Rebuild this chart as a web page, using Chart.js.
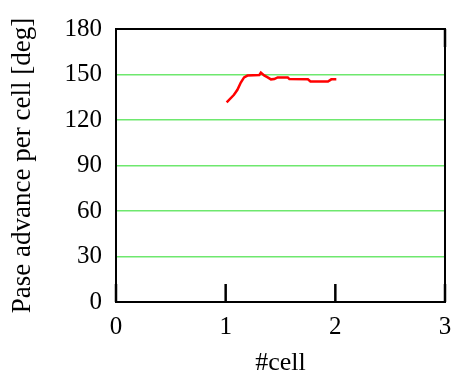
<!DOCTYPE html>
<html><head><meta charset="utf-8">
<script src="https://cdn.jsdelivr.net/npm/chart.js@4/dist/chart.umd.min.js"></script>
<style>html,body{margin:0;padding:0;background:#fff}#wrap{width:454px;height:379px}</style>
</head><body><div id="wrap"><canvas id="c" width="454" height="379"></canvas></div>
<script>
const cellX = [1.009,1.076,1.107,1.138,1.168,1.199,1.306,1.321,1.351,1.383,1.413,1.443,1.474,1.566,1.581,1.750,1.773,1.933,1.963,2.009];
const phaseY = [131.7,136.6,139.9,144.7,148.1,149.3,149.6,151.2,149.4,148.1,146.8,147.0,148.1,148.1,147.0,146.8,145.4,145.4,146.8,146.8];
const xTicks = [0,1,2,3];
const yTicks = [0,30,60,90,120,150,180];

const FONT = "'Liberation Serif','Times New Roman',serif";

const frame = {
  id:'frame',
  afterDraw(chart){
    const {ctx, chartArea:a, scales} = chart;
    ctx.save();
    ctx.strokeStyle='#000'; ctx.lineWidth=2;
    ctx.strokeRect(a.left, a.top, a.right-a.left, a.bottom-a.top);
    ctx.lineWidth=2.5;
    xTicks.forEach(v=>{
      const x = scales.x.getPixelForValue(v);
      ctx.beginPath(); ctx.moveTo(x, a.bottom); ctx.lineTo(x, a.bottom-18); ctx.stroke();
    });
    const xr = scales.x.getPixelForValue(3);
    ctx.beginPath(); ctx.moveTo(xr, a.top); ctx.lineTo(xr, a.top+18); ctx.stroke();
    ctx.restore();
  }
};

new Chart(document.getElementById('c'), {
  type:'scatter',
  data:{datasets:[{data:cellX.map((x,i)=>({x:x,y:phaseY[i]})), showLine:true, borderColor:'#ff0000', borderWidth:2.5, pointRadius:0, tension:0}]},
  options:{
    responsive:false, animation:false,
    layout:{padding:{top:24,right:2,left:0,bottom:0}},
    plugins:{legend:{display:false}, tooltip:{enabled:false}},
    scales:{
      x:{type:'linear', min:0, max:3,
        afterBuildTicks(s){ s.ticks = xTicks.map(v=>({value:v})); },
        afterFit(s){ s.height = 77; s.paddingRight = 9; },
        grid:{display:false, drawTicks:false},
        border:{display:false},
        ticks:{color:'#000', font:{family:FONT, size:25}, padding:10, maxRotation:0},
        title:{display:true, text:'#cell', color:'#000', font:{family:FONT, size:26}, padding:{top:4,bottom:0}}
      },
      y:{type:'linear', min:0, max:180,
        afterBuildTicks(s){ s.ticks = yTicks.map(v=>({value:v})); },
        afterFit(s){ s.width = 116; },
        grid:{drawTicks:false, lineWidth:1.5, color:(c)=> (c.tick && (c.tick.value===0||c.tick.value===180)) ? 'rgba(0,0,0,0)' : '#6ee86e'},
        border:{display:false},
        ticks:{color:'#000', font:{family:FONT, size:25}, padding:14},
        title:{display:true, text:'Pase advance per cell [deg]', color:'#000', font:{family:FONT, size:27}, padding:{top:7,bottom:0}}
      }
    }
  },
  plugins:[frame]
});
</script></body></html>
